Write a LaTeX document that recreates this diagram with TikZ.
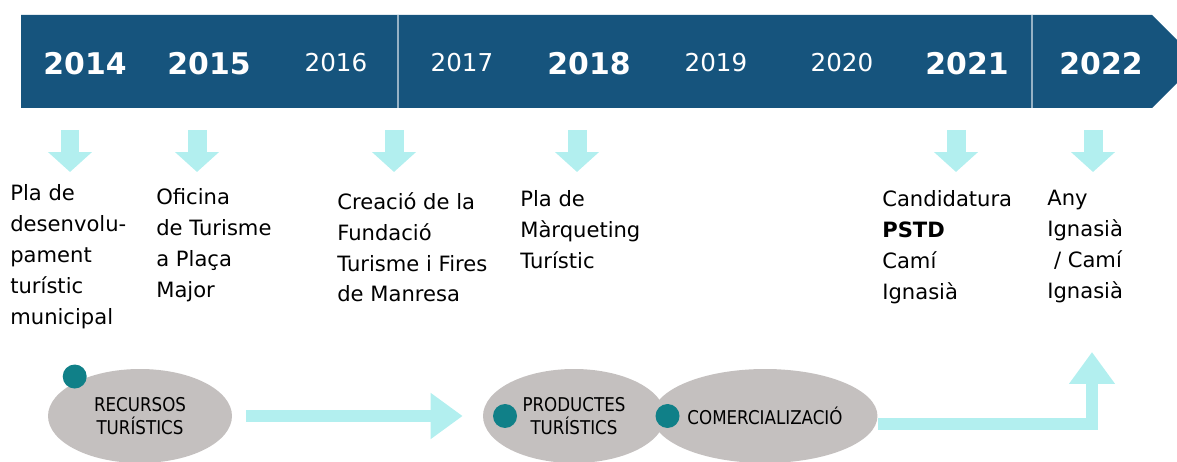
\documentclass[tikz,border=0pt]{standalone}
\usepackage{fontspec}
\setmainfont{DejaVu Sans}
\newfontfamily\condfont[FakeStretch=0.88]{DejaVu Sans}
\usepackage{tikz}
\usetikzlibrary{positioning,arrows.meta,shapes.geometric}
\definecolor{banner}{RGB}{22,84,125}
\definecolor{aqua}{RGB}{178,239,239}
\definecolor{stone}{RGB}{196,192,191}
\definecolor{dotteal}{RGB}{16,128,136}

\begin{document}
\begin{tikzpicture}[x=0.02cm,y=-0.02cm]
			\tikzset{year/.style={text=white,anchor=base,inner sep=0,font=\fontsize{14}{16}\selectfont},
				bigyear/.style={year,font=\fontsize{17}{20}\selectfont\bfseries},
				event/.style={anchor=north west,align=left,inner sep=0,font=\fontsize{12}{17.6}\selectfont},
				downarrow/.style={aqua,line width=0.38cm,-{Triangle[width=0.86cm,length=0.4cm]}},
				flowarrow/.style={aqua,line width=0.23cm,-{Triangle[width=0.88cm,length=0.64cm]}},
				blob/.style={ellipse,fill=stone,inner sep=0,minimum height=1.88cm,align=center,font=\condfont\fontsize{10.8}{13}\selectfont},
				dot/.style={circle,fill=dotteal,minimum size=0.48cm,inner sep=0}}
			\useasboundingbox (0,0) rectangle (1177,462);
			% banda dels anys
			\fill[banner] (21,15) -- (1152,15) -- (1198.5,61.5) -- (1152,108) -- (21,108) -- cycle;
			\draw[banner!45!white,line width=0.8pt] (398,15) -- (398,108);
			\draw[banner!45!white,line width=0.8pt] (1032,15) -- (1032,108);
			\node [bigyear] (y2014) at (85,75) {2014};
			\node [bigyear] (y2015) at (209,75) {2015};
			\node [year] (y2016) at (336,72) {2016};
			\node [year] (y2017) at (462,72) {2017};
			\node [bigyear] (y2018) at (589,75) {2018};
			\node [year] (y2019) at (716,72) {2019};
			\node [year] (y2020) at (842,72) {2020};
			\node [bigyear] (y2021) at (967,75) {2021};
			\node [bigyear] (y2022) at (1101,75) {2022};
			% fletxes cap avall
			\foreach \x [count=\i] in {70,197,394,577,956,1093}
			{
				\coordinate (drop\i) at (\x,130);
				\draw[downarrow] (drop\i) -- ++(0,42);
			}
			% fites
			\node [event] (pladev) at (10,184) {Pla de\\desenvolu-\\pament\\turístic\\municipal};
			\node [event] (oficina) at (156,188) {Oficina\\de Turisme\\a Plaça\\Major};
			\node [event] (fundacio) at (337,192) {Creació de la\\Fundació\\Turisme i Fires\\de Manresa};
			\node [event] (marqueting) at (520,190) {Pla de\\Màrqueting\\Turístic};
			\node [event] (pstd) at (882,190) {Candidatura\\\textbf{PSTD}\\Camí\\Ignasià};
			\node [event] (ignasia) at (1047,190) {Any\\Ignasià\\\ / Camí\\Ignasià};
			% cicle
			\node [blob,minimum width=3.68cm] (recursos) at (140,416) {RECURSOS\\TURÍSTICS};
			\node [blob,minimum width=3.64cm] (productes) at (574,416) {PRODUCTES\\TURÍSTICS};
			\node [blob,minimum width=4.5cm] (comerc) at (765,416) {COMERCIALIZACIÓ};
			\node [dot] (recdot) at ([yshift=0.12cm]recursos.north west) {};
			\node [dot,right=0.2cm of productes.west] (proddot) {};
			\node [dot,right=0.06cm of comerc.west] (comdot) {};
			\coordinate (peak) at (1092,352);
			\draw[flowarrow,shorten <=0.28cm,shorten >=0.4cm] (recursos.east) -- (productes.west);
			\draw[flowarrow] ([yshift=-0.16cm]comerc.east) -| (peak);
		\end{tikzpicture}
\end{document}
